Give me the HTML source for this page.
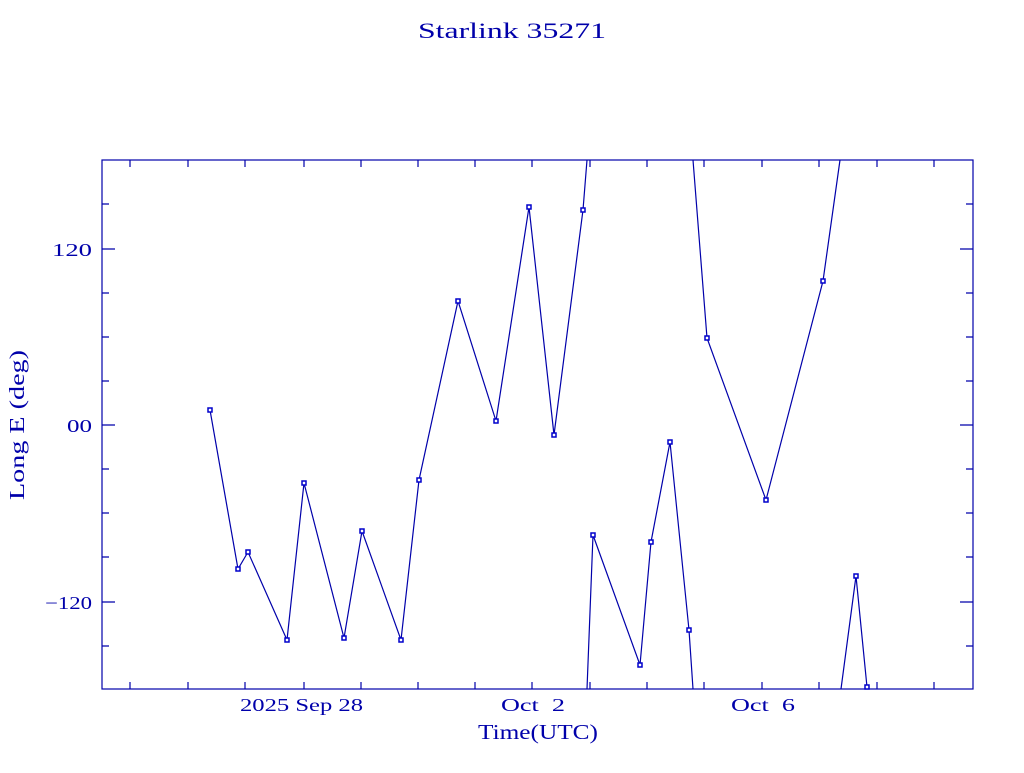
<!DOCTYPE html>
<html><head><meta charset="utf-8"><style>
html,body{margin:0;padding:0;background:#fff;}
svg text{font-family:"Liberation Serif",serif;fill:#0000aa;}
</style></head><body>
<svg width="1024" height="768" xmlns="http://www.w3.org/2000/svg">
<rect width="1024" height="768" fill="#fff"/>
<text x="418" y="38" font-size="22" textLength="188" lengthAdjust="spacingAndGlyphs">Starlink 35271</text>
<g stroke="#0000aa" stroke-width="1.2" fill="none">
<rect x="102" y="160" width="871" height="529"/>
<path d="M130 689v-7M188 689v-7M245 689v-7M304 689v-7M361 689v-7M418 689v-7M475 689v-7M532 689v-7M590 689v-7M647 689v-7M704 689v-7M762 689v-7M819 689v-7M877 689v-7M934 689v-7
M130 160v7M188 160v7M245 160v7M304 160v7M361 160v7M418 160v7M475 160v7M532 160v7M590 160v7M647 160v7M704 160v7M762 160v7M819 160v7M877 160v7M934 160v7"/>
<path d="M102 204h7M102 249h13M102 293h7M102 337h7M102 381h7M102 425h13M102 469h7M102 513h7M102 557h7M102 602h13M102 646h7
M973 204h-7M973 249h-13M973 293h-7M973 337h-7M973 381h-7M973 425h-13M973 469h-7M973 513h-7M973 557h-7M973 602h-13M973 646h-7"/>
<polyline points="210,410 238,569 248,552 287,640 304,483 344,638 362,531 401,640 419,480 458,301 496,421 529,207 554,435 583,210 587,160"/>
<polyline points="587,689 593,535 640,665 651,542 670,442 689,630 693,689"/>
<polyline points="693,160 707,338 766,500 823,281 840,160"/>
<polyline points="841,689 856,576 867,687"/>
</g>
<g stroke="#0000cc" stroke-width="1.5" fill="#fff">
<rect x="208" y="408" width="4" height="4"/><rect x="236" y="567" width="4" height="4"/><rect x="246" y="550" width="4" height="4"/><rect x="285" y="638" width="4" height="4"/><rect x="302" y="481" width="4" height="4"/><rect x="342" y="636" width="4" height="4"/><rect x="360" y="529" width="4" height="4"/><rect x="399" y="638" width="4" height="4"/><rect x="417" y="478" width="4" height="4"/><rect x="456" y="299" width="4" height="4"/><rect x="494" y="419" width="4" height="4"/><rect x="527" y="205" width="4" height="4"/><rect x="552" y="433" width="4" height="4"/><rect x="581" y="208" width="4" height="4"/>
<rect x="591" y="533" width="4" height="4"/><rect x="638" y="663" width="4" height="4"/><rect x="649" y="540" width="4" height="4"/><rect x="668" y="440" width="4" height="4"/><rect x="687" y="628" width="4" height="4"/>
<rect x="705" y="336" width="4" height="4"/><rect x="764" y="498" width="4" height="4"/><rect x="821" y="279" width="4" height="4"/>
<rect x="854" y="574" width="4" height="4"/><rect x="865" y="685" width="4" height="4"/>
</g>
<g font-size="18">
<text x="52" y="256" textLength="40" lengthAdjust="spacingAndGlyphs">120</text>
<text x="67" y="432" textLength="25" lengthAdjust="spacingAndGlyphs">00</text>
<text x="45" y="609" textLength="47" lengthAdjust="spacingAndGlyphs">−120</text>
<text x="240" y="711" textLength="123" lengthAdjust="spacingAndGlyphs">2025 Sep 28</text>
<text x="501" y="711" textLength="64" lengthAdjust="spacingAndGlyphs" xml:space="preserve">Oct  2</text>
<text x="731" y="711" textLength="64" lengthAdjust="spacingAndGlyphs" xml:space="preserve">Oct  6</text>
</g>
<text x="478" y="739" font-size="21" textLength="120" lengthAdjust="spacingAndGlyphs">Time(UTC)</text>
<text transform="translate(24,500) rotate(-90)" font-size="21" textLength="150" lengthAdjust="spacingAndGlyphs">Long E (deg)</text>
</svg>
</body></html>
